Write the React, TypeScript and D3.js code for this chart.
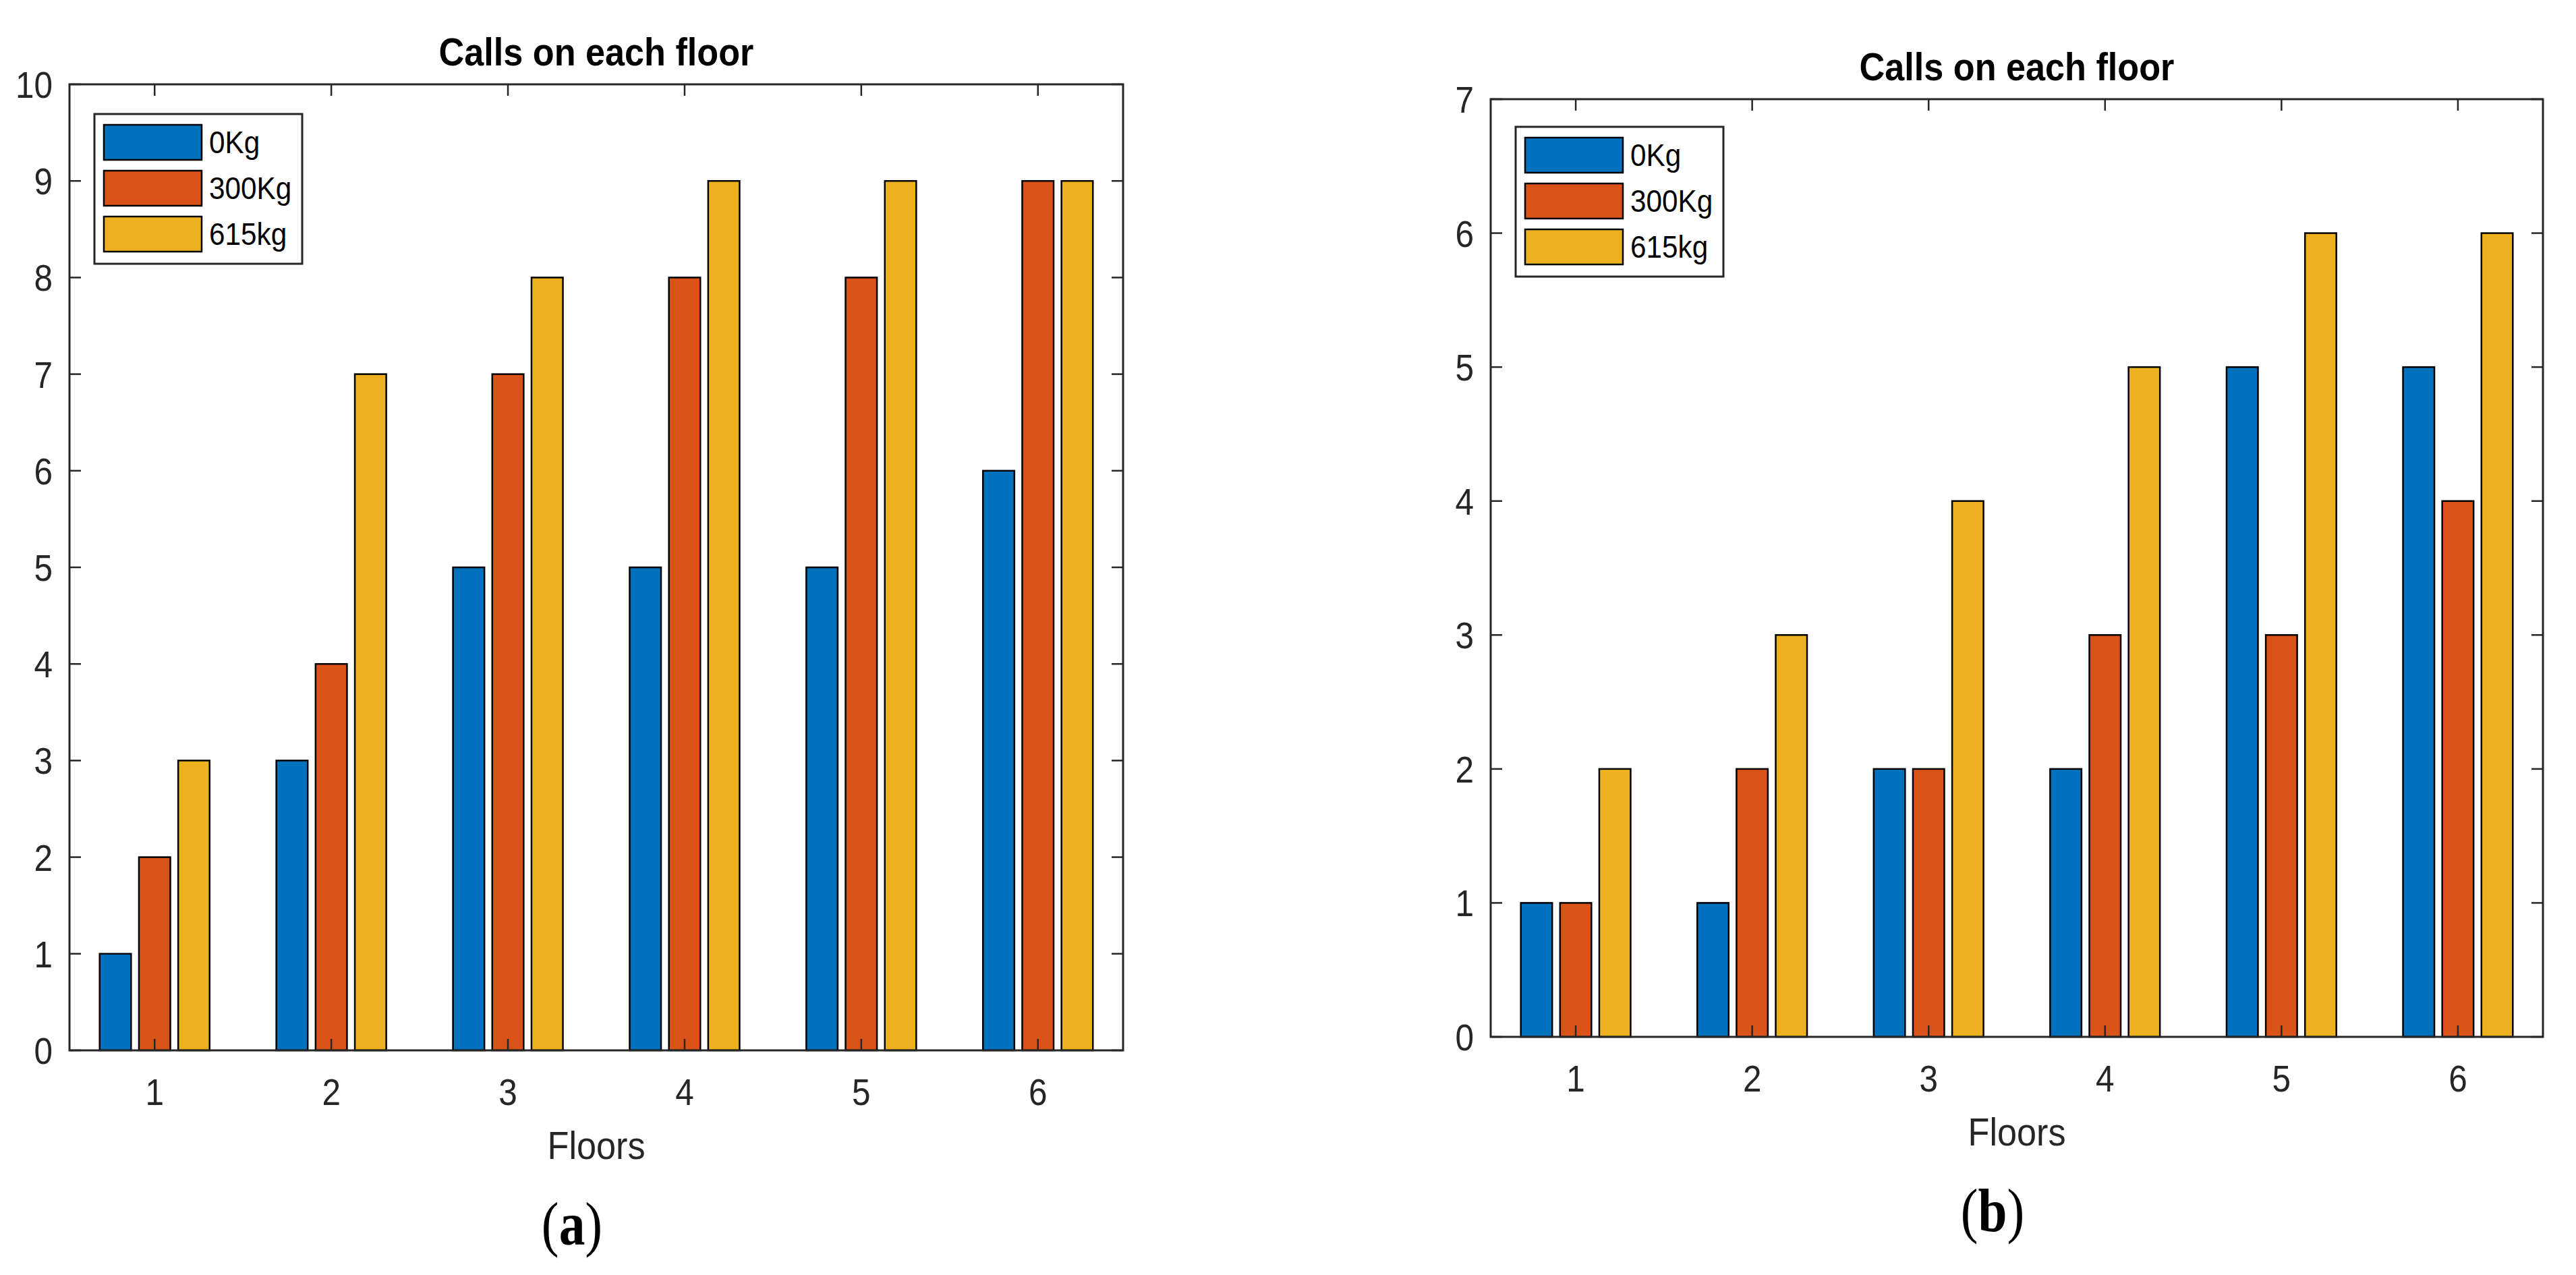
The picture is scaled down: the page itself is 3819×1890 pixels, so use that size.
import React from "react";
import * as d3 from "d3";

const floors = [1, 2, 3, 4, 5, 6];
const seriesNames = ["0Kg", "300Kg", "615kg"];
const seriesColors = ["#0072BD", "#D95319", "#EDB120"];

const aZero = [1, 3, 5, 5, 5, 6];
const a300 = [2, 4, 7, 8, 8, 9];
const a615 = [3, 7, 8, 9, 9, 9];

const bZero = [1, 1, 2, 2, 5, 5];
const b300 = [1, 2, 2, 3, 3, 4];
const b615 = [2, 3, 4, 5, 6, 6];

const aYTicks = [0, 1, 2, 3, 4, 5, 6, 7, 8, 9, 10];
const bYTicks = [0, 1, 2, 3, 4, 5, 6, 7];

const titleText = "Calls on each floor";
const xLabelText = "Floors";

const SANS = "'Liberation Sans', Arial, Helvetica, sans-serif";
const SERIF = "'Liberation Serif', 'Times New Roman', serif";
const AXIS = "#262626";
const SX = 0.9;

type PanelProps = {
  series: number[][];
  yMax: number;
  yTicks: number[];
  left: number;
  right: number;
  top: number;
  bottom: number;
  legendDy: number;
  letter: string;
};

function T(props: {
  x: number;
  y: number;
  size: number;
  anchor?: string;
  weight?: string | number;
  fill?: string;
  family?: string;
  sx?: number;
  children: React.ReactNode;
}) {
  const sx = props.sx ?? SX;
  return (
    <text
      transform={`translate(${props.x},${props.y}) scale(${sx},1)`}
      fontSize={props.size}
      fontFamily={props.family ?? SANS}
      fontWeight={props.weight ?? "normal"}
      textAnchor={props.anchor ?? "start"}
      fill={props.fill ?? AXIS}
    >
      {props.children}
    </text>
  );
}

function Panel(p: PanelProps) {
  const x = d3.scaleLinear().domain([0.518, 6.482]).range([p.left, p.right]);
  const y = d3.scaleLinear().domain([0, p.yMax]).range([p.bottom, p.top]);
  const nS = p.series.length;
  const groupW = Math.min(0.8, nS / (nS + 1.5));
  const step = groupW / nS;
  const barW = step * 0.8;
  const tickLen = 17;
  const cx = (p.left + p.right) / 2;

  const lgLeft = p.left + 37;
  const lgTop = p.top + p.legendDy;
  const lgW = 308;
  const rowH = 68;
  const swW = 145;
  const swH = 52;
  const lgH = 16 + nS * rowH + 2;

  return (
    <g>
      {p.series.map((vals, si) =>
        vals.map((v, i) => {
          const c = floors[i] + (si - (nS - 1) / 2) * step;
          const x0 = x(c - barW / 2);
          const x1 = x(c + barW / 2);
          return (
            <rect
              key={`b${si}-${i}`}
              x={x0}
              y={y(v)}
              width={x1 - x0}
              height={y(0) - y(v)}
              fill={seriesColors[si]}
              stroke="#000"
              strokeWidth={2.5}
            />
          );
        })
      )}
      {/* x ticks bottom & top */}
      {floors.map((f) => (
        <g key={`xt${f}`}>
          <line x1={x(f)} x2={x(f)} y1={p.bottom} y2={p.bottom - tickLen} stroke={AXIS} strokeWidth={2.5} />
          <line x1={x(f)} x2={x(f)} y1={p.top} y2={p.top + tickLen} stroke={AXIS} strokeWidth={2.5} />
          <T x={x(f)} y={p.bottom + 81} size={55} anchor="middle">
            {String(f)}
          </T>
        </g>
      ))}
      {/* y ticks left & right */}
      {p.yTicks.map((t) => (
        <g key={`yt${t}`}>
          <line x1={p.left} x2={p.left + tickLen} y1={y(t)} y2={y(t)} stroke={AXIS} strokeWidth={2.5} />
          <line x1={p.right} x2={p.right - tickLen} y1={y(t)} y2={y(t)} stroke={AXIS} strokeWidth={2.5} />
          <T x={p.left - 25} y={y(t) + 20} size={55} anchor="end">
            {String(t)}
          </T>
        </g>
      ))}
      <rect
        x={p.left}
        y={p.top}
        width={p.right - p.left}
        height={p.bottom - p.top}
        fill="none"
        stroke={AXIS}
        strokeWidth={3}
      />
      {/* title */}
      <T x={cx} y={p.top - 28} size={58} anchor="middle" weight="bold" fill="#000">
        {titleText}
      </T>
      {/* x label */}
      <T x={cx} y={p.bottom + 161} size={58} anchor="middle">
        {xLabelText}
      </T>
      {/* legend */}
      <rect x={lgLeft} y={lgTop} width={lgW} height={lgH} fill="#fff" stroke={AXIS} strokeWidth={3} />
      {seriesNames.map((name, si) => {
        const ry = lgTop + 16 + si * rowH;
        return (
          <g key={`lg${si}`}>
            <rect
              x={lgLeft + 14}
              y={ry}
              width={swW}
              height={swH}
              fill={seriesColors[si]}
              stroke="#000"
              strokeWidth={2.5}
            />
            <T x={lgLeft + 14 + swW + 11} y={ry + swH / 2 + 16} size={46} sx={0.92} fill="#000">
              {name}
            </T>
          </g>
        );
      })}
      {/* panel letter */}
      <text
        transform={`translate(${cx - 36},${p.bottom + 288}) scale(0.86,1)`}
        fontSize={90}
        fontFamily={SERIF}
        textAnchor="middle"
        fill="#000"
      >
        (<tspan fontWeight="bold">{p.letter}</tspan>)
      </text>
    </g>
  );
}

export default function App() {
  return (
    <svg
      width={3819}
      height={1890}
      style={{ position: "absolute", left: 0, top: 0, background: "#fff" }}
    >
      <rect x={0} y={0} width={3819} height={1890} fill="#fff" />
      <Panel
        series={[aZero, a300, a615]}
        yMax={10}
        yTicks={aYTicks}
        left={103}
        right={1665}
        top={125}
        bottom={1557}
        legendDy={44}
        letter="a"
      />
      <Panel
        series={[bZero, b300, b615]}
        yMax={7}
        yTicks={bYTicks}
        left={2210}
        right={3770}
        top={147}
        bottom={1537}
        legendDy={41}
        letter="b"
      />
    </svg>
  );
}
